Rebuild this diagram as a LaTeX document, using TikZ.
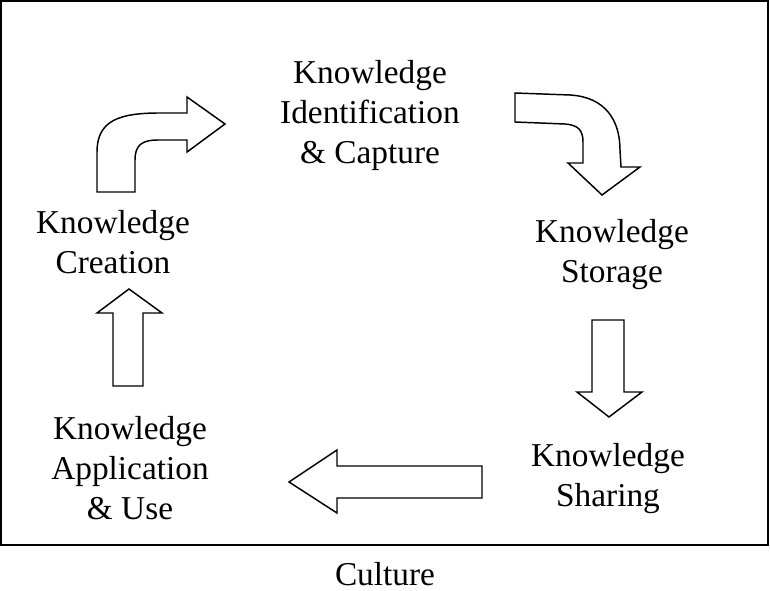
\documentclass[tikz,border=0pt]{standalone}
\usepackage{fontspec}
\setmainfont{Liberation Serif}

\begin{document}
\begin{tikzpicture}[x=0.75pt, y=-0.75pt]

  % Styles
  \tikzset{
    stage/.style={align=center, inner sep=0pt, font=\fontsize{25}{30}\selectfont},
    blockarrow/.style={draw, fill=white, line width=1.1pt, line join=miter}
  }

  \useasboundingbox (0,0) rectangle (770,591);

  % Outer frame
  \draw[line width=1.5pt] (1,1) rectangle (768,545);

  % Stages of the cycle
  \node[stage] (capture) at (370,115) {Knowledge\\Identification\\\& Capture};
  \node[stage] (storage) at (612,255) {Knowledge\\Storage};
  \node[stage] (sharing) at (608,479) {Knowledge\\Sharing};
  \node[stage] (application) at (130,468) {Knowledge\\Application\\\& Use};
  \node[stage] (creation) at (113,242) {Knowledge\\Creation};
  \node[stage] (culture) at (385,574) {Culture};

  % Curved arrow: creation -> capture
  \draw[blockarrow] (97,192) -- (97,152)
    .. controls (97,120) and (120,113) .. (160,113)
    -- (187,113) -- (187,97) -- (225,124) -- (187,152) -- (187,140)
    -- (158,140) .. controls (142,140) and (135,145) .. (135,160)
    -- (135,192) -- cycle;

  % Curved arrow: capture -> storage
  \draw[blockarrow] (515,93) -- (570,95)
    .. controls (605,97) and (620,120) .. (620,150)
    -- (621,167) -- (640,167) -- (602,195) -- (568,163) -- (583,163)
    -- (583,142) .. controls (583,130) and (578,125) .. (565,124)
    -- (515,122) -- cycle;

  % Straight arrow: storage -> sharing
  \draw[blockarrow] (592,320) -- (624,320) -- (624,392) -- (642,392)
    -- (609,417) -- (577,392) -- (592,392) -- cycle;

  % Straight arrow: sharing -> application
  \draw[blockarrow] (482,466) -- (337,466) -- (337,450) -- (289,482)
    -- (337,513) -- (337,498) -- (482,498) -- cycle;

  % Straight arrow: application -> creation
  \draw[blockarrow] (113,386) -- (113,313) -- (97,313) -- (129,289)
    -- (162,313) -- (143,313) -- (143,386) -- cycle;

\end{tikzpicture}
\end{document}
